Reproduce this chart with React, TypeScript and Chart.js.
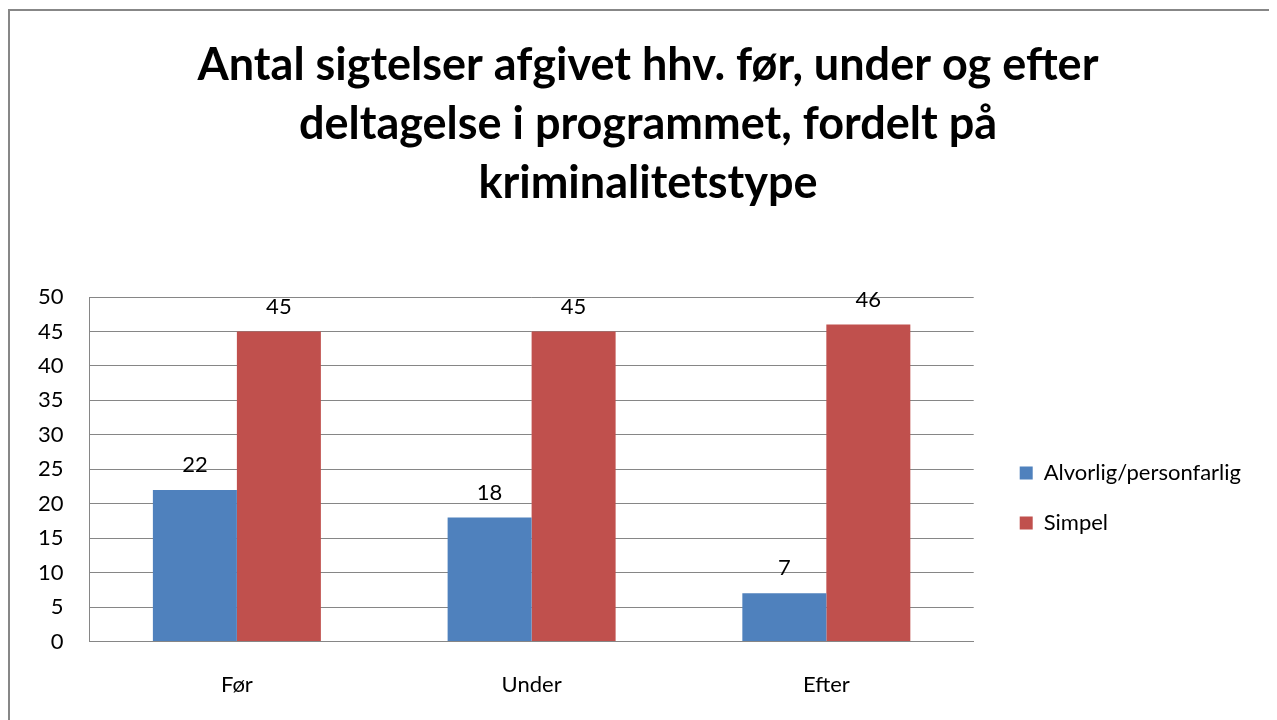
import React, { useEffect, useRef } from "react";
import { Chart, registerables } from "chart.js";

Chart.register(...registerables);

const categories = ["Før", "Under", "Efter"];
const seriesNames = ["Alvorlig/personfarlig", "Simpel"];
const alvorligValues = [22, 18, 7];
const simpelValues = [45, 45, 46];
const seriesColors = ["#4F81BD", "#C0504D"];
const titleLines = [
  "Antal sigtelser afgivet hhv. før, under og efter",
  "deltagelse i programmet, fordelt på",
  "kriminalitetstype",
];
const yMin = 0;
const yMax = 50;
const yStep = 5;

const FONT = "Lato, 'Open Sans', sans-serif";

const valueLabels = {
  id: "valueLabels",
  afterDatasetsDraw(chart: any) {
    const ctx = chart.ctx;
    ctx.save();
    ctx.font = `22px ${FONT}`;
    ctx.fillStyle = "#000";
    ctx.textAlign = "center";
    ctx.textBaseline = "middle";
    chart.data.datasets.forEach((ds: any, i: number) => {
      const meta = chart.getDatasetMeta(i);
      meta.data.forEach((el: any, j: number) => {
        ctx.fillText(String(ds.data[j]), el.x, el.y - 25);
      });
    });
    ctx.restore();
  },
};

// fine placement of the title block and the legend block
const boxPlacement = {
  id: "boxPlacement",
  afterLayout(chart: any) {
    const t = chart.titleBlock;
    if (t) {
      t.left = 0;
      t.right = chart.width + 9;
    }
    const l = chart.legend;
    const area = chart.chartArea;
    if (l && area) {
      const w = l.right - l.left;
      l.left = area.right + 18;
      l.right = l.left + w;
      l.top = area.top - 29;
      l.bottom = chart.scales.x.bottom;
    }
  },
};

export default function App() {
  const ref = useRef<HTMLCanvasElement | null>(null);
  useEffect(() => {
    document.body.style.overflow = "hidden";
    document.documentElement.style.overflow = "hidden";
    const chart = new Chart(ref.current as HTMLCanvasElement, {
      type: "bar",
      data: {
        labels: categories,
        datasets: [
          { label: seriesNames[0], data: alvorligValues, backgroundColor: seriesColors[0] },
          { label: seriesNames[1], data: simpelValues, backgroundColor: seriesColors[1] },
        ],
      },
      options: {
        animation: false,
        responsive: false,
        maintainAspectRatio: false,
        layout: { padding: { left: 2, right: 44, top: 0, bottom: 3 } },
        datasets: { bar: { barPercentage: 1, categoryPercentage: 0.57 } },
        plugins: {
          title: {
            display: true,
            text: titleLines,
            color: "#000",
            font: { family: FONT, size: 45, weight: "bold", lineHeight: 59 / 45 },
            padding: { top: 25, bottom: 84 },
          },
          legend: {
            position: "right",
            labels: {
              boxWidth: 13,
              boxHeight: 13,
              color: "#000",
              padding: 28,
              font: { family: FONT, size: 22 },
            },
          },
          tooltip: { enabled: false },
        },
        scales: {
          x: {
            grid: { display: false, drawTicks: false },
            border: { display: true, color: "#868686", width: 1 },
            ticks: { color: "#000", padding: 30, font: { family: FONT, size: 22 } },
          },
          y: {
            min: yMin,
            max: yMax,
            grid: { color: "#868686", drawTicks: false },
            border: { display: true, color: "#868686", width: 1 },
            ticks: { stepSize: yStep, color: "#000", padding: 26, font: { family: FONT, size: 22 } },
          },
        },
      },
      plugins: [valueLabels, boxPlacement],
    });
    return () => chart.destroy();
  }, []);
  return (
    <div
      style={{
        position: "relative",
        width: 1300,
        height: 760,
        marginTop: 1,
        border: "2px solid #878787",
        boxSizing: "border-box",
        background: "#fff",
      }}
    >
      <canvas ref={ref} width={1267} height={720} style={{ display: "block", width: 1267, height: 720 }} />
    </div>
  );
}
